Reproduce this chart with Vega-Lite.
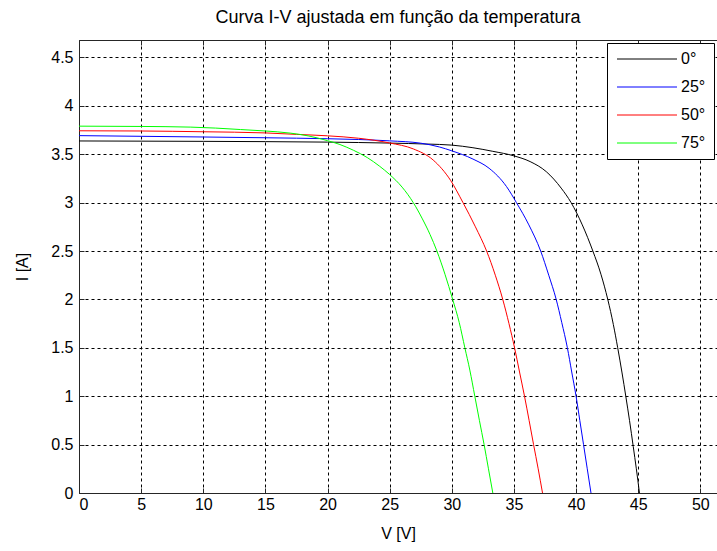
{
  "$schema": "https://vega.github.io/schema/vega-lite/v6.json",
  "autosize": {"type": "none"},
  "padding": {"left": 79, "top": 40, "right": 0, "bottom": 58},
  "width": 638,
  "height": 453,
  "background": "white",
  "title": {"text": "Curva I-V ajustada em função da temperatura", "fontSize": 18, "fontWeight": "normal", "font": "Liberation Sans", "color": "black", "offset": 13},
  "config": {
    "view": {"stroke": null},
    "axis": {"labelFont": "Liberation Sans", "titleFont": "Liberation Sans", "labelFontSize": 16, "titleFontSize": 16, "titleFontWeight": "normal", "labelColor": "black", "titleColor": "black", "domainColor": "#262626", "tickColor": "#262626", "gridColor": "black", "gridDash": [3, 3], "gridOpacity": 1, "gridWidth": 1, "tickSize": -5}
  },
  "data": {"values": [
    {"T":"0°","V":0,"I":3.637},{"T":"0°","V":5,"I":3.635},{"T":"0°","V":10,"I":3.633},{"T":"0°","V":15,"I":3.63},{"T":"0°","V":20,"I":3.625},{"T":"0°","V":25,"I":3.615},{"T":"0°","V":28,"I":3.605},{"T":"0°","V":30,"I":3.594},{"T":"0°","V":31.7,"I":3.567},{"T":"0°","V":33.3,"I":3.53},{"T":"0°","V":35,"I":3.483},{"T":"0°","V":36.3,"I":3.424},{"T":"0°","V":37.6,"I":3.32},{"T":"0°","V":38.8,"I":3.15},{"T":"0°","V":39.6,"I":3.0},{"T":"0°","V":40.5,"I":2.77},{"T":"0°","V":41.35,"I":2.5},{"T":"0°","V":42.0,"I":2.26},{"T":"0°","V":42.55,"I":2.0},{"T":"0°","V":43.0,"I":1.74},{"T":"0°","V":43.35,"I":1.5},{"T":"0°","V":43.7,"I":1.24},{"T":"0°","V":44.0,"I":1.0},{"T":"0°","V":44.3,"I":0.75},{"T":"0°","V":44.6,"I":0.48},{"T":"0°","V":44.85,"I":0.25},{"T":"0°","V":45.1,"I":0},
    {"T":"25°","V":0,"I":3.692},{"T":"25°","V":5,"I":3.685},{"T":"25°","V":10,"I":3.678},{"T":"25°","V":15,"I":3.67},{"T":"25°","V":20,"I":3.66},{"T":"25°","V":22.5,"I":3.652},{"T":"25°","V":25,"I":3.638},{"T":"25°","V":27.5,"I":3.614},{"T":"25°","V":29,"I":3.575},{"T":"25°","V":30,"I":3.535},{"T":"25°","V":31.7,"I":3.45},{"T":"25°","V":33.0,"I":3.355},{"T":"25°","V":34.4,"I":3.166},{"T":"25°","V":35.2,"I":3.0},{"T":"25°","V":36.2,"I":2.77},{"T":"25°","V":37.15,"I":2.5},{"T":"25°","V":37.8,"I":2.25},{"T":"25°","V":38.4,"I":2.0},{"T":"25°","V":38.85,"I":1.76},{"T":"25°","V":39.3,"I":1.5},{"T":"25°","V":39.65,"I":1.25},{"T":"25°","V":40.0,"I":1.0},{"T":"25°","V":40.3,"I":0.75},{"T":"25°","V":40.6,"I":0.5},{"T":"25°","V":40.9,"I":0.25},{"T":"25°","V":41.2,"I":0},
    {"T":"50°","V":0,"I":3.742},{"T":"50°","V":5,"I":3.74},{"T":"50°","V":10,"I":3.732},{"T":"50°","V":15,"I":3.72},{"T":"50°","V":17.5,"I":3.705},{"T":"50°","V":20,"I":3.69},{"T":"50°","V":22.5,"I":3.665},{"T":"50°","V":25,"I":3.616},{"T":"50°","V":26.9,"I":3.555},{"T":"50°","V":28.5,"I":3.44},{"T":"50°","V":29.9,"I":3.23},{"T":"50°","V":30.9,"I":3.0},{"T":"50°","V":31.9,"I":2.75},{"T":"50°","V":32.8,"I":2.5},{"T":"50°","V":33.5,"I":2.25},{"T":"50°","V":34.1,"I":2.0},{"T":"50°","V":34.6,"I":1.75},{"T":"50°","V":35.05,"I":1.5},{"T":"50°","V":35.45,"I":1.25},{"T":"50°","V":35.85,"I":1.0},{"T":"50°","V":36.22,"I":0.75},{"T":"50°","V":36.58,"I":0.5},{"T":"50°","V":36.95,"I":0.25},{"T":"50°","V":37.3,"I":0},
    {"T":"75°","V":0,"I":3.79},{"T":"75°","V":5,"I":3.787},{"T":"75°","V":9,"I":3.78},{"T":"75°","V":11,"I":3.77},{"T":"75°","V":13,"I":3.755},{"T":"75°","V":15,"I":3.74},{"T":"75°","V":17,"I":3.718},{"T":"75°","V":18.5,"I":3.688},{"T":"75°","V":20,"I":3.64},{"T":"75°","V":21,"I":3.6},{"T":"75°","V":22.1,"I":3.54},{"T":"75°","V":23.2,"I":3.465},{"T":"75°","V":24.2,"I":3.375},{"T":"75°","V":25,"I":3.29},{"T":"75°","V":26,"I":3.16},{"T":"75°","V":26.9,"I":3.0},{"T":"75°","V":27.6,"I":2.84},{"T":"75°","V":28.25,"I":2.67},{"T":"75°","V":28.8,"I":2.5},{"T":"75°","V":29.45,"I":2.26},{"T":"75°","V":30.07,"I":2.0},{"T":"75°","V":30.6,"I":1.76},{"T":"75°","V":31.05,"I":1.5},{"T":"75°","V":31.45,"I":1.27},{"T":"75°","V":31.85,"I":1.0},{"T":"75°","V":32.22,"I":0.75},{"T":"75°","V":32.6,"I":0.5},{"T":"75°","V":32.95,"I":0.25},{"T":"75°","V":33.3,"I":0}
  ]},
  "resolve": {"axis": {"x": "independent"}},
  "layer": [
    {
      "mark": {"type": "line", "strokeWidth": 1, "clip": true, "interpolate": "monotone"},
      "encoding": {
        "x": {"field": "V", "type": "quantitative", "scale": {"domain": [0, 51.34], "nice": false, "zero": false},
              "axis": {"title": "V [V]", "values": [0,5,10,15,20,25,30,35,40,45,50], "grid": true, "labelPadding": 8, "titlePadding": 13}},
        "y": {"field": "I", "type": "quantitative", "scale": {"domain": [0, 4.68], "nice": false},
              "axis": {"title": "I [A]", "values": [0,0.5,1,1.5,2,2.5,3,3.5,4,4.5], "grid": true, "labelPadding": 11, "titlePadding": 20, "format": "~g"}},
        "color": {"field": "T", "type": "nominal",
                  "scale": {"domain": ["0°","25°","50°","75°"], "range": ["black","blue","red","#00ff00"]},
                  "legend": {"orient": "none", "legendX": 528, "legendY": 3, "title": null, "symbolType": "M-6,0H6", "symbolSize": 100, "symbolStrokeWidth": 1, "symbolOffset": 24, "labelFont": "Liberation Sans", "labelFontSize": 16, "labelColor": "black", "labelOffset": 26, "rowPadding": 12, "padding": 8, "fillColor": "white", "strokeColor": "black"}}
      }
    },
    {
      "mark": {"type": "point", "opacity": 0},
      "encoding": {
        "x": {"field": "V", "type": "quantitative", "scale": {"domain": [0, 51.34], "nice": false, "zero": false}, "axis": {"orient": "top", "labels": false, "title": null, "grid": false, "values": [0,5,10,15,20,25,30,35,40,45,50]}}
      }
    }
  ]
}
